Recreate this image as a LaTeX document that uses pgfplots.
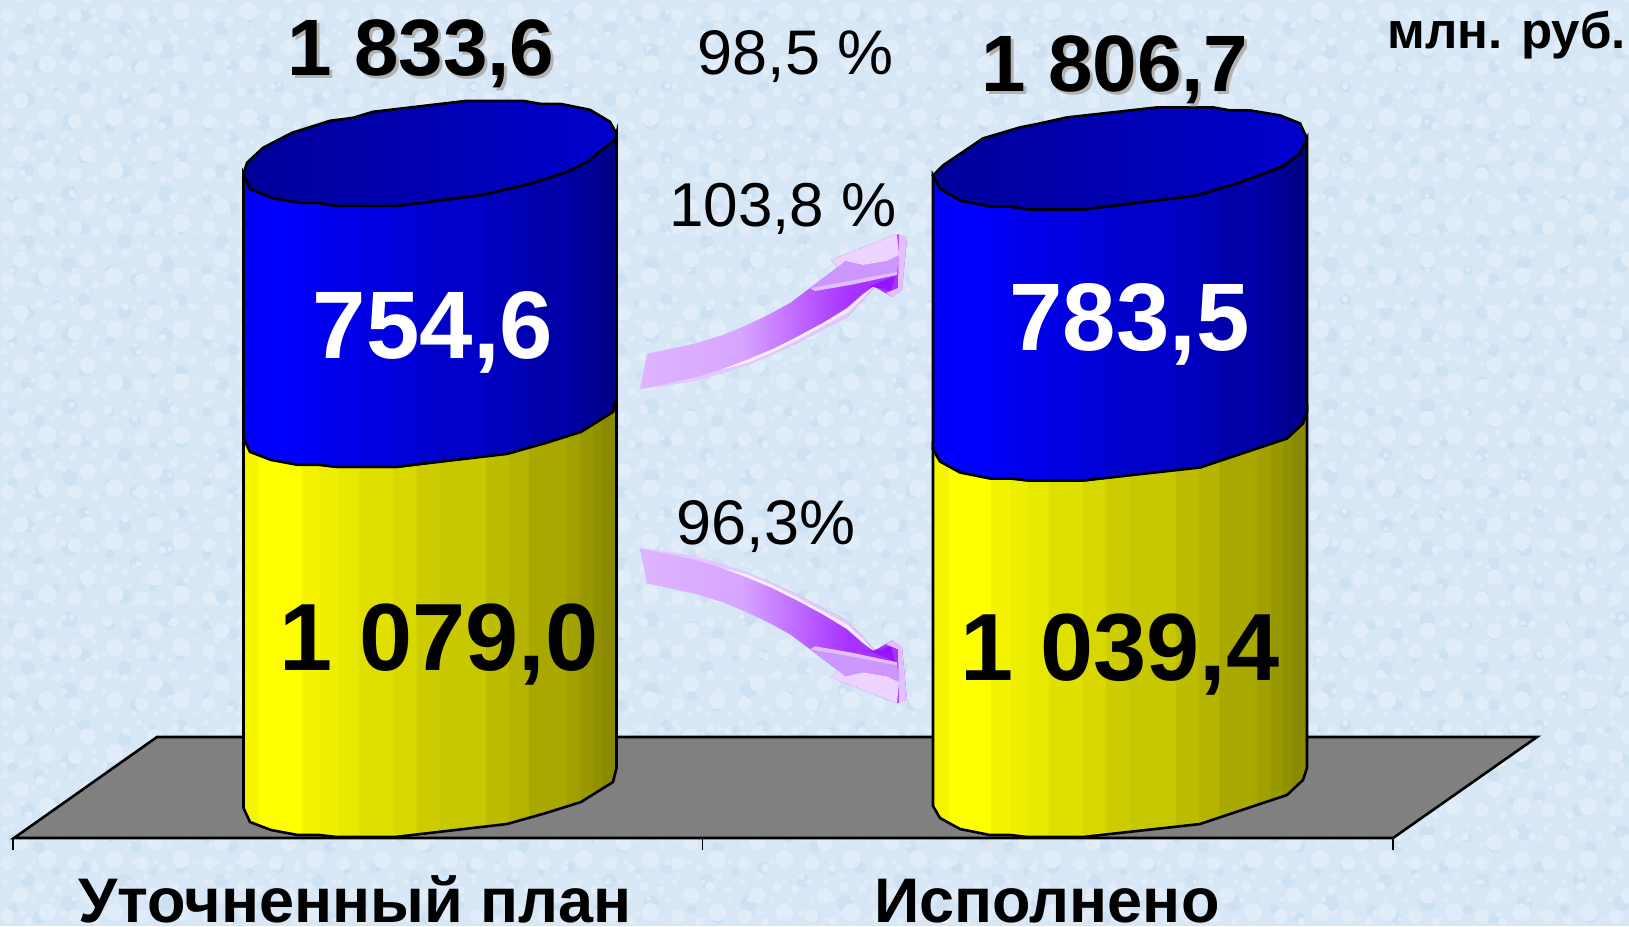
\documentclass[border=0pt]{standalone}
\usepackage{fontspec}
\setmainfont{Liberation Sans}
\usepackage{pgfplots}
\usepackage{pgfplotstable}
\usetikzlibrary{patterns}
\pgfplotsset{compat=1.18}
\definecolor{bgblue}{RGB}{215,231,246}
\definecolor{bgpale}{RGB}{225,237,249}
\definecolor{bgdeep}{RGB}{206,225,243}
\definecolor{bgpink}{RGB}{226,233,247}
\definecolor{plat}{RGB}{128,128,128}
\definecolor{bodyA}{RGB}{222,180,255}
\definecolor{bodyB}{RGB}{216,165,255}
\definecolor{bodyC}{RGB}{168,50,255}
\definecolor{bodyD}{RGB}{168,50,255}
\pgfdeclarepatternformonly{mottleA}{\pgfpointorigin}{\pgfqpoint{67pt}{53pt}}{\pgfqpoint{67pt}{53pt}}{%
\pgfpathcircle{\pgfqpoint{9pt}{11pt}}{7pt}\pgfpathcircle{\pgfqpoint{30pt}{6pt}}{4pt}\pgfpathcircle{\pgfqpoint{49pt}{15pt}}{9pt}%
\pgfpathcircle{\pgfqpoint{22pt}{32pt}}{8pt}\pgfpathcircle{\pgfqpoint{42pt}{41pt}}{5pt}\pgfpathcircle{\pgfqpoint{60pt}{38pt}}{4pt}\pgfpathcircle{\pgfqpoint{6pt}{46pt}}{3pt}\pgfusepath{fill}}
\pgfdeclarepatternformonly{mottleB}{\pgfpointorigin}{\pgfqpoint{97pt}{71pt}}{\pgfqpoint{97pt}{71pt}}{%
\pgfpathcircle{\pgfqpoint{14pt}{18pt}}{5pt}\pgfpathcircle{\pgfqpoint{40pt}{9pt}}{6pt}\pgfpathcircle{\pgfqpoint{71pt}{24pt}}{8pt}%
\pgfpathcircle{\pgfqpoint{29pt}{47pt}}{7pt}\pgfpathcircle{\pgfqpoint{58pt}{56pt}}{4pt}\pgfpathcircle{\pgfqpoint{86pt}{60pt}}{6pt}\pgfusepath{fill}}
\pgfdeclarepatternformonly{mottleC}{\pgfpointorigin}{\pgfqpoint{41pt}{37pt}}{\pgfqpoint{41pt}{37pt}}{%
\pgfpathcircle{\pgfqpoint{7pt}{8pt}}{2.5pt}\pgfpathcircle{\pgfqpoint{24pt}{14pt}}{3.5pt}\pgfpathcircle{\pgfqpoint{35pt}{29pt}}{2.5pt}\pgfpathcircle{\pgfqpoint{13pt}{28pt}}{3pt}\pgfusepath{fill}}
\pgfdeclarehorizontalshading{cylyellow}{100bp}{%
rgb(0bp)=(.96,.96,0);rgb(27bp)=(.96,.96,0);rgb(27.01bp)=(1,1,0);rgb(32.7bp)=(1,1,0);rgb(32.71bp)=(.957,.957,0);rgb(35.2bp)=(.957,.957,0);rgb(35.21bp)=(.933,.933,0);rgb(37.7bp)=(.933,.933,0);rgb(37.71bp)=(.91,.91,0);rgb(40.4bp)=(.91,.91,0);rgb(40.41bp)=(.878,.878,0);rgb(45bp)=(.878,.878,0);rgb(45.01bp)=(.847,.847,0);rgb(48.1bp)=(.847,.847,0);rgb(48.11bp)=(.8,.8,0);rgb(51.2bp)=(.8,.8,0);rgb(51.21bp)=(.784,.784,0);rgb(57.4bp)=(.784,.784,0);rgb(57.41bp)=(.737,.737,0);rgb(60.5bp)=(.737,.737,0);rgb(60.51bp)=(.706,.706,0);rgb(63.2bp)=(.706,.706,0);rgb(63.21bp)=(.659,.659,0);rgb(68.3bp)=(.659,.659,0);rgb(68.31bp)=(.627,.627,0);rgb(70.1bp)=(.627,.627,0);rgb(70.11bp)=(.596,.596,0);rgb(71.8bp)=(.596,.596,0);rgb(71.81bp)=(.565,.565,0);rgb(73bp)=(.565,.565,0);rgb(73.01bp)=(.541,.541,0);rgb(100bp)=(.541,.541,0)}
\pgfdeclarehorizontalshading{cylblue}{100bp}{%
rgb(0bp)=(0,0,.96);rgb(27bp)=(0,0,.96);rgb(27.01bp)=(0,0,1);rgb(32.7bp)=(0,0,1);rgb(32.71bp)=(0,0,.957);rgb(35.2bp)=(0,0,.957);rgb(35.21bp)=(0,0,.933);rgb(37.7bp)=(0,0,.933);rgb(37.71bp)=(0,0,.91);rgb(40.4bp)=(0,0,.91);rgb(40.41bp)=(0,0,.878);rgb(45bp)=(0,0,.878);rgb(45.01bp)=(0,0,.847);rgb(48.1bp)=(0,0,.847);rgb(48.11bp)=(0,0,.8);rgb(51.2bp)=(0,0,.8);rgb(51.21bp)=(0,0,.784);rgb(57.4bp)=(0,0,.784);rgb(57.41bp)=(0,0,.737);rgb(60.5bp)=(0,0,.737);rgb(60.51bp)=(0,0,.706);rgb(63.2bp)=(0,0,.706);rgb(63.21bp)=(0,0,.659);rgb(68.3bp)=(0,0,.659);rgb(68.31bp)=(0,0,.627);rgb(70.1bp)=(0,0,.627);rgb(70.11bp)=(0,0,.596);rgb(71.8bp)=(0,0,.596);rgb(71.81bp)=(0,0,.565);rgb(73bp)=(0,0,.565);rgb(73.01bp)=(0,0,.541);rgb(100bp)=(0,0,.541)}
\pgfdeclarehorizontalshading{arrowbody}{100bp}{%
color(0bp)=(bodyA);color(25bp)=(bodyA);color(44bp)=(bodyB);color(64bp)=(bodyC);color(75bp)=(bodyD);color(100bp)=(bodyD)}
% band round a cylinder: x, base edge in picture px, level
\pgfplotstableread{
x e lev
243.5 805 1
250 820 1
272 829 1
300 834 1
318 834 1
337 837 1
397 837 1
483 826 1
530 815 1
567 803 1
587 793 1
615 771 1
616.5 765 1
616.5 768 0
613 782 0
581 802 0
546 813 0
507 824 0
395 837 0
337 837 0
319 835 0
298 835 0
271 830 0
250 822 0
243.5 808 0
}\bandL
\pgfplotstableread{
x e
243.5 805
250 820
272 829
300 834
318 834
337 837
397 837
483 826
530 815
567 803
587 793
615 771
616.5 765
610 753
590 741
560 735
540 735
523 732
467 732
373 743
353 749
330 752
292 764
263 779
247 794
}\capL
\pgfplotstableread{
x e lev
933 803 1
940 816 1
960 828 1
990 834 1
1010 834 1
1028 837 1
1083 837 1
1197 823 1
1237 811 1
1283 794 1
1300 781 1
1307 766 1
1307 768 0
1303 780 0
1287 795 0
1260 804 0
1233 813 0
1200 824 0
1083 837 0
1028 837 0
1010 835 0
990 835 0
960 829 0
940 818 0
933 806 0
}\bandR
\pgfplotstableread{
x e
933 803
940 816
960 828
990 834
1010 834
1028 837
1083 837
1197 823
1237 811
1283 794
1300 781
1307 766
1300 751
1280 743
1250 738
1230 738
1213 735
1157 735
1067 745
1040 751
1020 755
983 766
943 793
}\capR
% arrows
\pgfplotstableread{
x y
647 354
670 349
697 343
723 335
747 325
770 314
790 303
810 288
838 267
831 260
897 234
907 238
902 290
892 297
875 287
863 300
847 317
823 329
797 343
773 354
747 365
723 373
697 380
670 385
640 389
}\arrBody
\pgfplotstableread{
x y
838 267
831 260
897 234
899 255
887 261
863 265
845 261
}\arrLight
\pgfplotstableread{
x y
810 288
838 267
845 261
863 265
887 261
899 255
897 274
850 282
}\arrMid
\pgfplotstableread{
x y
810 288
850 281
897 272
897 275
850 285
815 291
}\arrBand
\pgfplotstableread{
x y
868 287
895 276
891 291
880 288
}\arrDark
\pgfplotstableread{
x y
640 389
670 385
697 380
723 373
747 365
773 354
797 343
823 329
847 317
863 300
875 287
873 287
863 294
847 308
823 323
797 337
773 349
747 360
723 369
697 377
670 383
}\arrLow
\pgfplotstableread{
x y
720 370
747 360
773 349
797 337
823 323
847 309
863 295
873 287
864 297
848 312
823 326
797 340
773 352
747 363
}\arrWhite
\pgfplotstableread{
x y
899 234
907 238
902 290
892 297
886 293
898 288
}\arrRim
\newcommand\arrowpair[2]{%
\addplot[#2] table[x=x,y=y]{#1} -- cycle;
\addplot[#2] table[x=x,y expr=937.3-\thisrow{y}]{#1} -- cycle;}
\newcommand\txt[5]{\node[anchor=base,inner sep=0pt,text=#4] at (axis cs:#1,#2) {\fontsize{#3}{#3}\selectfont #5};}
\begin{document}
\begin{tikzpicture}
\begin{axis}[
  scale only axis,width=1629pt,height=926pt,
  xmin=0,xmax=1629,ymin=0,ymax=926,y dir=reverse,
  hide axis,clip=false]
\addplot[fill=bgblue,draw=none] coordinates {(0,0)(1629,0)(1629,926)(0,926)} -- cycle;
\addplot[pattern=mottleB,pattern color=bgdeep,draw=none] coordinates {(0,0)(1629,0)(1629,926)(0,926)} -- cycle;
\addplot[pattern=mottleA,pattern color=bgpale,draw=none] coordinates {(0,0)(1629,0)(1629,926)(0,926)} -- cycle;
\addplot[pattern=mottleC,pattern color=bgpink,draw=none] coordinates {(0,0)(1629,0)(1629,926)(0,926)} -- cycle;
% floor
\addplot[fill=plat,draw=black,line width=2.6pt] coordinates {(14,838)(157,737)(1537,737)(1393,838)} -- cycle;
\addplot[black,line width=1.8pt] coordinates {(13,838)(13,850)};
\addplot[black,line width=1.8pt] coordinates {(702.5,838)(702.5,850)};
\addplot[black,line width=1.8pt] coordinates {(1393,838)(1393,850)};
% left column: 1079.0 + 754.6
\addplot[shading=cylyellow,draw=black,line width=2.6pt] table[x=x,y expr=\thisrow{e}-0.343*1079.0*\thisrow{lev}]{\bandL} -- cycle;
\addplot[shading=cylblue,draw=black,line width=2.6pt] table[x=x,y expr=\thisrow{e}-0.343*1079.0-0.346*754.6*\thisrow{lev}]{\bandL} -- cycle;
\addplot[left color=blue!60!black,right color=blue!80!black,draw=black,line width=2.6pt] table[x=x,y expr=\thisrow{e}-0.343*1079.0-0.346*754.6]{\capL} -- cycle;
% right column: 1039.4 + 783.5
\addplot[shading=cylyellow,draw=black,line width=2.6pt] table[x=x,y expr=\thisrow{e}-0.343*1039.4*\thisrow{lev}]{\bandR} -- cycle;
\addplot[shading=cylblue,draw=black,line width=2.6pt] table[x=x,y expr=\thisrow{e}-0.343*1039.4-0.346*783.5*\thisrow{lev}]{\bandR} -- cycle;
\addplot[left color=blue!60!black,right color=blue!80!black,draw=black,line width=2.6pt] table[x=x,y expr=\thisrow{e}-0.343*1039.4-0.346*783.5]{\capR} -- cycle;
% arrows
\arrowpair{\arrBody}{shading=arrowbody,draw=none}
\arrowpair{\arrMid}{fill={rgb,255:red,205;green,150;blue,255},draw=none}
\arrowpair{\arrLight}{fill={rgb,255:red,236;green,212;blue,255},draw=none}
\arrowpair{\arrBand}{fill={rgb,255:red,226;green,190;blue,255},draw=none}
\arrowpair{\arrDark}{fill={rgb,255:red,150;green,20;blue,255},draw=none}
\arrowpair{\arrLow}{fill={rgb,255:red,228;green,200;blue,255},draw=none}
\arrowpair{\arrWhite}{fill={rgb,255:red,247;green,238;blue,255},draw=none}
\arrowpair{\arrRim}{fill={rgb,255:red,226;green,192;blue,255},draw=none}
% text
\txt{424}{78}{80}{black!30}{\bfseries 1 833,6}
\txt{421}{75}{80}{black}{\bfseries 1 833,6}
\txt{1118}{94.5}{80}{black!30}{\bfseries 1 806,7}
\txt{1115}{91.5}{80}{black}{\bfseries 1 806,7}
\txt{796}{74}{63}{black}{98,5 \%}
\txt{783}{226}{62}{black}{103,8 \%}
\txt{766}{544}{63}{black}{96,3\%}
\txt{433}{358}{96}{white}{\bfseries 754,6}
\txt{1129.5}{350}{96}{white}{\bfseries 783,5}
\txt{439}{670}{95.5}{black}{\bfseries 1 079,0}
\txt{1120}{680}{95.5}{black}{\bfseries 1 039,4}
\node[anchor=base east,inner sep=0pt] at (axis cs:1626,48) {\fontsize{51}{51}\selectfont\bfseries млн. руб.};
\txt{355}{922}{63}{black}{\bfseries Уточненный план}
\txt{1047}{922}{63}{black}{\bfseries Исполнено}
\end{axis}
\end{tikzpicture}
\end{document}
